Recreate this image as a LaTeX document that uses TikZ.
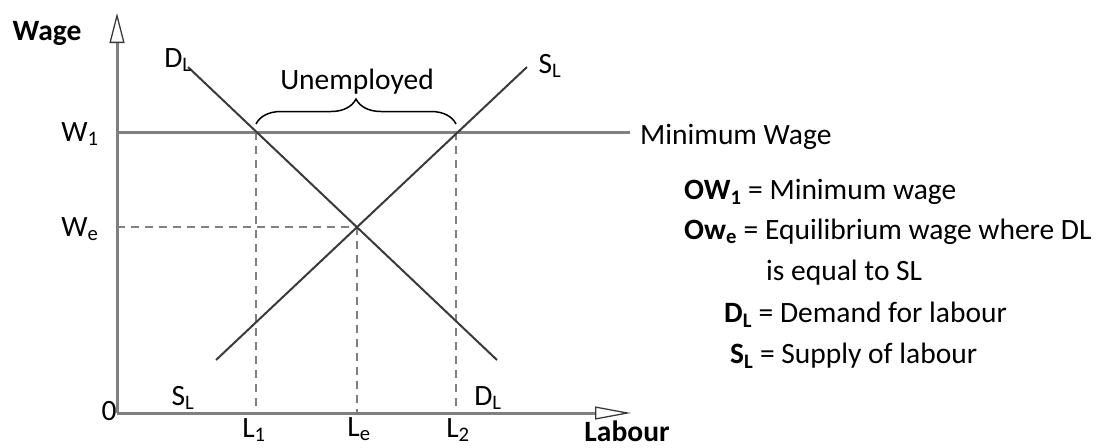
\documentclass[tikz,border=0pt]{standalone}
\usepackage{fontspec}
\setmainfont{Carlito}
\usetikzlibrary{arrows.meta,decorations.pathreplacing}
\newcommand\mysub[1]{\textsubscript{#1}}
\definecolor{axisgray}{HTML}{808080}
\definecolor{curvegray}{HTML}{3A3A3A}
\begin{document}
\begin{tikzpicture}[x=1pt,y=-1pt,
  lbl/.style={inner sep=0pt,font=\fontsize{29.5}{34}\selectfont},
  axisline/.style={draw=axisgray,line width=3pt},
  curve/.style={draw=curvegray,line width=2pt},
  guide/.style={draw=axisgray,line width=1.4pt,dash pattern=on 8pt off 6pt}]
\useasboundingbox (0,0) rectangle (1105,447);
% coordinates
\coordinate (O) at (117,413);
\coordinate (ytip) at (117,13);
\coordinate (xtip) at (631,413);
\coordinate (w1a) at (117,132);
\coordinate (w1b) at (630,132);
\coordinate (dtop) at (188,67);
\coordinate (dbot) at (497,360);
\coordinate (sbot) at (216,360);
\coordinate (stop) at (527,67);
\coordinate (A) at (256,132);
\coordinate (B) at (456,132);
\coordinate (E) at (357,227);
\coordinate (weaxis) at (117,227);
\coordinate (l1) at (256,413);
\coordinate (le) at (357,413);
\coordinate (l2) at (456,413);
\coordinate (bl) at (256,124);
\coordinate (br) at (456,124);
% guides
\draw[guide] (A) -- (l1);
\draw[guide] (B) -- (l2);
\draw[guide] (E) -- (le);
\draw[guide] (weaxis) -- (E);
% minimum wage line
\draw[axisline] (w1a) -- (w1b);
% curves
\draw[curve] (dtop) -- (dbot);
\draw[curve] (sbot) -- (stop);
% axes
\draw[axisline,-{Triangle[open,length=30pt,width=15pt,line width=1.3pt,color=curvegray]}] (O) -- (ytip);
\draw[axisline,-{Triangle[open,length=36pt,width=13pt,line width=1.3pt,color=curvegray]}] (O) -- (xtip);
% brace
\draw[line width=1.5pt,decorate,decoration={brace,amplitude=25pt}] (bl) -- (br);
% labels
\node[lbl,font=\fontsize{29.5}{34}\selectfont\bfseries] (wage) at (47,33) {Wage};
\node[lbl,font=\fontsize{29.5}{34}\selectfont\bfseries] (labour) at (627,431) {Labour};
\node[lbl] (zero) at (109,411) {0};
\node[lbl] (w1) at (80,134) {W\mysub{1}};
\node[lbl] (we) at (80,229) {W\mysub{e}};
\node[lbl] (L1) at (254,430) {L\mysub{1}};
\node[lbl] (Le) at (359,429) {L\mysub{e}};
\node[lbl] (L2) at (458,430) {L\mysub{2}};
\node[lbl] (dlt) at (178,60) {D\mysub{L}};
\node[lbl] (slt) at (550,66) {S\mysub{L}};
\node[lbl] (slb) at (183,398) {S\mysub{L}};
\node[lbl] (dlb) at (488,398) {D\mysub{L}};
\node[lbl] (unemp) at (357,82) {Unemployed};
\node[lbl,anchor=west] (minw) at (640,137) {Minimum Wage};
\node[lbl,anchor=west] (k1) at (684,192) {\textbf{OW\mysub{1}} = Minimum wage};
\node[lbl,anchor=west] (k2) at (684,232) {\textbf{Ow\mysub{e}} = Equilibrium wage where DL};
\node[lbl,anchor=west] (k3) at (766,273) {is equal to SL};
\node[lbl,anchor=west] (k4) at (724,315) {\textbf{D\mysub{L}} = Demand for labour};
\node[lbl,anchor=west] (k5) at (730,356) {\textbf{S\mysub{L}} = Supply of labour};
\end{tikzpicture}
\end{document}
